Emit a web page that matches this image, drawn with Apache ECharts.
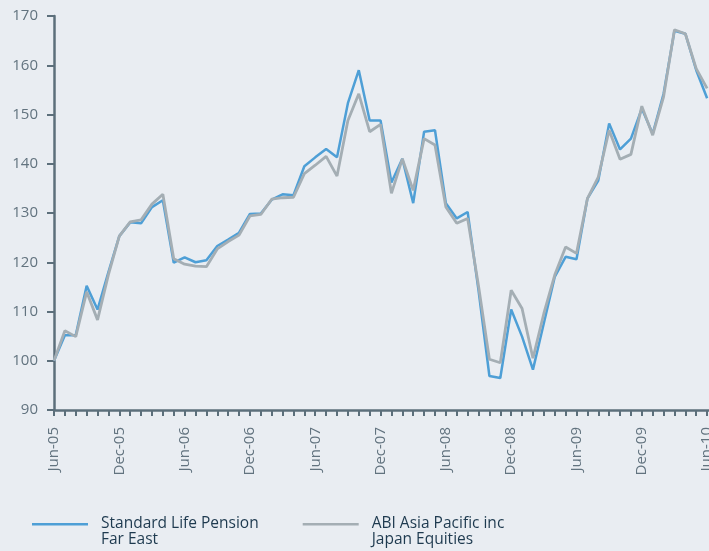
<!DOCTYPE html>
<html>
<head>
<meta charset="utf-8">
<script src="https://cdn.jsdelivr.net/npm/echarts@6/dist/echarts.min.js"></script>
<style>
  html, body { margin: 0; padding: 0; background: #e9edf2; }
  #chart { width: 709px; height: 551px; }
</style>
</head>
<body>
<div id="chart"></div>
<script>
// month labels, Jun-05 .. Jul-10
var months = [
  'Jun-05', 'Jul-05', 'Aug-05', 'Sep-05', 'Oct-05', 'Nov-05', 'Dec-05',
  'Jan-06', 'Feb-06', 'Mar-06', 'Apr-06', 'May-06', 'Jun-06', 'Jul-06', 'Aug-06', 'Sep-06', 'Oct-06', 'Nov-06', 'Dec-06',
  'Jan-07', 'Feb-07', 'Mar-07', 'Apr-07', 'May-07', 'Jun-07', 'Jul-07', 'Aug-07', 'Sep-07', 'Oct-07', 'Nov-07', 'Dec-07',
  'Jan-08', 'Feb-08', 'Mar-08', 'Apr-08', 'May-08', 'Jun-08', 'Jul-08', 'Aug-08', 'Sep-08', 'Oct-08', 'Nov-08', 'Dec-08',
  'Jan-09', 'Feb-09', 'Mar-09', 'Apr-09', 'May-09', 'Jun-09', 'Jul-09', 'Aug-09', 'Sep-09', 'Oct-09', 'Nov-09', 'Dec-09',
  'Jan-10', 'Feb-10', 'Mar-10', 'Apr-10', 'May-10', 'Jun-10', 'Jul-10'
];

var standardLife = [
  100, 105.2, 105.2, 115.2, 110.4, 118, 125.3, 128.1, 127.9, 131.2, 132.6, 119.9,
  121, 120, 120.4, 123.3, 124.6, 126, 129.8, 129.9, 132.7, 133.8, 133.6, 139.5,
  141.3, 143, 141.3, 152.3, 159, 148.8, 148.8, 136.2, 141, 132, 146.5, 146.8,
  132, 128.9, 130.2, 114.3, 96.9, 96.5, 110.4, 104.9, 98.2, 107.6, 117, 121.1,
  120.6, 132.9, 136.6, 148.2, 142.9, 145.1, 151.2, 146.1, 154.2, 167, 166.4, 159,
  153.3
];

var abiAsiaPacific = [
  100, 106.1, 104.9, 114, 108.3, 117.5, 125.3, 128.2, 128.6, 131.8, 133.8, 120.7,
  119.6, 119.2, 119.1, 122.7, 124.2, 125.5, 129.4, 129.7, 132.8, 133.1, 133.2, 138,
  139.7, 141.5, 137.5, 148.8, 154.2, 146.5, 148, 134, 141, 134.6, 145.1, 143.8,
  131.2, 127.9, 128.9, 115.2, 100.3, 99.6, 114.3, 110.6, 100.5, 109.6, 117.4, 123.1,
  121.8, 132.9, 137.3, 146.8, 140.9, 141.9, 151.7, 145.8, 153.6, 167.2, 166.4, 159.3,
  155.3
];

var seriesNames = ['Standard Life Pension\nFar East', 'ABI Asia Pacific inc\nJapan Equities'];

var axisColor = '#5c6f7b';
var labelColor = '#62737f';
var font = 'Open Sans';
// thin line at the top of the legend icon box, so it sits level with the first text line
var legendLine = 'path://M0,0h56v2.5h-56z M0,17.9h0.01v0.1h-0.01z';

var chart = echarts.init(document.getElementById('chart'));
chart.setOption({
  backgroundColor: '#e9edf2',
  animation: false,
  legend: {
    data: seriesNames,
    left: 32,
    top: 516,
    padding: 0,
    itemWidth: 56,
    itemHeight: 18,
    itemGap: 44,
    icon: legendLine,
    textStyle: {
      fontFamily: font,
      fontSize: 15.5,
      color: '#1e3a4f',
      lineHeight: 16,
      padding: [0, 0, 0, 8]
    }
  },
  grid: {
    left: 54,
    top: 16,
    right: -9,
    bottom: 141,
    containLabel: false,
    outerBoundsMode: 'none'
  },
  xAxis: {
    type: 'category',
    data: months,
    boundaryGap: false,
    axisLine: { lineStyle: { color: axisColor, width: 2.5 } },
    axisTick: {
      show: true,
      interval: 0,
      length: 6,
      lineStyle: { color: axisColor, width: 2 }
    },
    axisLabel: {
      interval: 5,
      rotate: 90,
      margin: 17,
      color: labelColor,
      fontFamily: font,
      fontSize: 15
    },
    splitLine: { show: false }
  },
  yAxis: {
    type: 'value',
    min: 90,
    max: 170,
    interval: 10,
    axisLine: { show: true, lineStyle: { color: axisColor, width: 2.5 } },
    axisTick: { show: true, length: 7, lineStyle: { color: axisColor, width: 2 } },
    axisLabel: {
      margin: 16,
      color: labelColor,
      fontFamily: font,
      fontSize: 15
    },
    splitLine: { show: false }
  },
  series: [
    {
      name: seriesNames[0],
      type: 'line',
      data: standardLife,
      symbol: 'none',
      lineStyle: { color: '#4e9fd6', width: 2.5 },
      itemStyle: { color: '#4e9fd6' }
    },
    {
      name: seriesNames[1],
      type: 'line',
      data: abiAsiaPacific,
      symbol: 'none',
      lineStyle: { color: '#a4aeb4', width: 2.8 },
      itemStyle: { color: '#a4aeb4' }
    }
  ]
});
</script>
</body>
</html>
